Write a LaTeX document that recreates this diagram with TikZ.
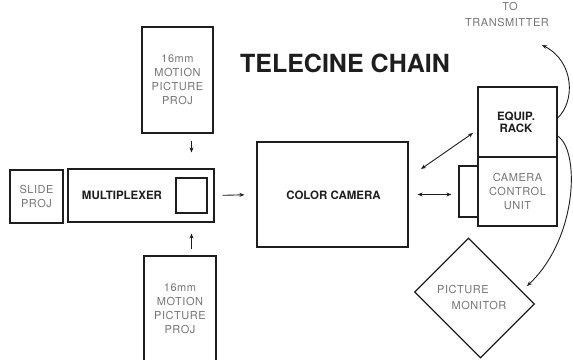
\documentclass[tikz,border=0pt]{standalone}
\usepackage{fontspec}
\setmainfont{TeX Gyre Heros}
\newfontfamily\spacedfont[LetterSpace=5]{TeX Gyre Heros}
\usetikzlibrary{arrows.meta,calc}
\definecolor{ink}{HTML}{1E1E1E}
\definecolor{graytxt}{HTML}{767676}
\begin{document}
\begin{tikzpicture}[x=1pt,y=-1pt,
  box/.style={draw=ink, line width=1.2pt, inner sep=0pt},
  lbl/.style={text=graytxt, font=\spacedfont\fontsize{11}{14}\selectfont, align=center, inner sep=0pt},
  blbl/.style={text=ink, font=\fontsize{11.5}{12.5}\selectfont\bfseries, align=center, inner sep=0pt},
  arr/.style={draw=ink, line width=0.9pt, -{Stealth[length=5pt,width=4pt]}},
  darr/.style={draw=ink, line width=0.9pt, {Stealth[length=5pt,width=4pt]}-{Stealth[length=5pt,width=4pt]}},
]
\useasboundingbox[fill=white] (0,0) rectangle (573,359);

% title
\node[text=ink, font=\fontsize{25}{27}\selectfont\bfseries, inner sep=0pt] (title) at (345,63) {TELECINE CHAIN};

% left side
\node[box, minimum width=53, minimum height=53] (slide) at (36.5,196.5) {};
\node[lbl] (slidetxt) at (slide.center) {SLIDE\\PROJ};
\node[box, minimum width=146, minimum height=53] (mux) at (141,195.5) {};
\node[blbl] (muxtxt) at (122,195) {MULTIPLEXER};
\node[box, minimum width=31, minimum height=35] (inner) at (191.5,195.5) {};

\node[box, minimum width=71, minimum height=106] (topproj) at (177.5,80) {};
\node[lbl] (toptxt) at (topproj.center) {16mm\\MOTION\\PICTURE\\PROJ};
\node[box, minimum width=72, minimum height=106] (botproj) at (180,309) {};
\node[lbl] (bottxt) at (botproj.center) {16mm\\MOTION\\PICTURE\\PROJ};

% camera
\node[box, minimum width=151, minimum height=105] (camera) at (332.5,194.5) {};
\node[blbl] (camtxt) at (333.5,195) {COLOR CAMERA};

% right side
\node[box, minimum width=20, minimum height=51] (tab) at (469,191.5) {};
\node[box, minimum width=79, minimum height=70, fill=white] (rack) at (517.5,122) {};
\node[blbl] (racktxt) at (516,122.5) {EQUIP.\\RACK};
\node[box, minimum width=79, minimum height=69, fill=white] (ccu) at (517.5,191.5) {};
\node[lbl] (ccutxt) at (517.5,191.5) {CAMERA\\CONTROL\\UNIT};

\node[box, rotate=-45, minimum width=93, minimum height=76] (monitor) at (474.5,298) {};
\node[lbl] (pic) at (463,289) {PICTURE};
\node[lbl] (mon) at (479,305) {MONITOR};

\node[lbl] (to) at (510,6) {TO};
\node[lbl] (trans) at (507,22) {TRANSMITTER};

% connectors
\draw[arr, shorten <=7pt, shorten >=16pt] (topproj.south -| inner.north) -- (mux.north -| inner.north);
\draw[arr, shorten <=6pt, shorten >=11pt] (botproj.north -| inner.south) -- (mux.south -| inner.south);
\draw[arr, shorten <=8pt, shorten >=12pt] (mux.east) -- (camera.west);
\draw[darr, shorten <=9pt, shorten >=7pt] (camera.east) -- (camera.east -| tab.west);

\coordinate (dg1) at (421,169);
\coordinate (dg2) at (473,133);
\draw[darr] (dg1) -- (dg2);

\coordinate (txtip) at (542,45);
\coordinate (montip) at (527,286);
\draw[arr] ([yshift=4pt]rack.east) .. controls (575,102) and (575,62) .. (txtip);
\draw[arr] ([yshift=-14pt]rack.east) .. controls (580,150) and (578,238) .. (montip);
\end{tikzpicture}
\end{document}
